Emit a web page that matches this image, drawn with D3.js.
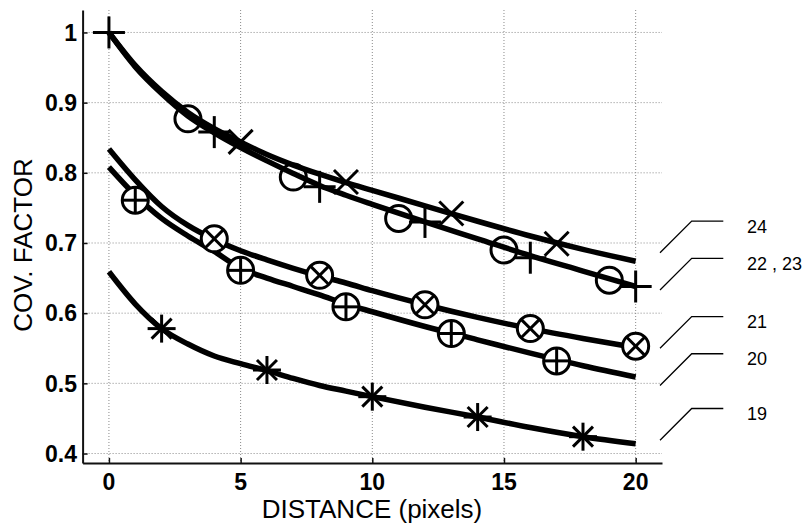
<!DOCTYPE html>
<html>
<head>
<meta charset="utf-8">
<script src="https://cdn.jsdelivr.net/npm/d3@7"></script>
<style>
  body { margin: 0; background: #fff; }
  svg { display: block; }
</style>
</head>
<body>
<svg id="chart" width="808" height="526"></svg>
<script>
// fitted curves, sampled along distance
const curveX = [0, 1, 2, 3, 4, 5, 6, 7, 8, 9, 10, 12, 14, 16, 18, 20];
const line24 = [1.000, 0.953, 0.916, 0.886, 0.863, 0.844, 0.826, 0.811, 0.798, 0.786, 0.775, 0.753, 0.731, 0.710, 0.691, 0.674];
const line2223 = [1.000, 0.951, 0.913, 0.881, 0.857, 0.836, 0.817, 0.799, 0.782, 0.768, 0.755, 0.730, 0.706, 0.682, 0.660, 0.638];
const line21 = [0.834, 0.790, 0.752, 0.725, 0.705, 0.689, 0.676, 0.664, 0.653, 0.643, 0.632, 0.612, 0.594, 0.578, 0.564, 0.551];
const line20 = [0.808, 0.768, 0.735, 0.710, 0.688, 0.664, 0.650, 0.638, 0.626, 0.613, 0.602, 0.581, 0.562, 0.543, 0.525, 0.509];
const line19 = [0.659, 0.613, 0.578, 0.556, 0.539, 0.528, 0.518, 0.507, 0.497, 0.489, 0.481, 0.466, 0.452, 0.437, 0.424, 0.414];

// measured points
const circleX = [3, 7, 11, 15, 19];
const circleY = [0.877, 0.794, 0.735, 0.690, 0.647];
const plusX = [0, 4, 8, 12, 16, 20];
const plusY = [1.000, 0.858, 0.780, 0.730, 0.679, 0.638];
const crossX = [5, 9, 13, 17];
const crossY = [0.844, 0.787, 0.742, 0.699];
const otimesX = [4, 8, 12, 16, 20];
const otimesY = [0.706, 0.654, 0.612, 0.578, 0.553];
const oplusX = [1, 5, 9, 13, 17];
const oplusY = [0.761, 0.661, 0.609, 0.571, 0.532];
const starX = [2, 6, 10, 14, 18];
const starY = [0.578, 0.519, 0.481, 0.452, 0.424];

// tick labels
const xTicks = [0, 5, 10, 15, 20];
const yTicks = [0.4, 0.5, 0.6, 0.7, 0.8, 0.9, 1];

// curve labels and where their leaders point (data units)
const curveLabels = ['24', '22 , 23', '21', '20', '19'];
const labelAnchorY = [0.686, 0.633, 0.550, 0.497, 0.419];

const svg = d3.select('#chart');
const x = d3.scaleLinear().domain([-1, 21]).range([82.6, 662]);
const y = d3.scaleLinear().domain([0.3865, 1.032]).range([463, 10]);

// grid
const grid = svg.append('g')
    .attr('stroke', '#8a8a8a')
    .attr('stroke-width', 1)
    .attr('stroke-dasharray', '1,2');
xTicks.forEach(t => {
    grid.append('line')
        .attr('x1', x(t)).attr('x2', x(t))
        .attr('y1', y.range()[1]).attr('y2', y.range()[0]);
});
yTicks.forEach(t => {
    grid.append('line')
        .attr('x1', x.range()[0]).attr('x2', x.range()[1])
        .attr('y1', y(t)).attr('y2', y(t));
});

// axes
const xAxis = svg.append('g')
    .attr('transform', `translate(0,${y.range()[0]})`)
    .call(d3.axisBottom(x).tickValues(xTicks).tickSizeInner(-5).tickSizeOuter(0).tickFormat(''));
const yAxis = svg.append('g')
    .attr('transform', `translate(${x.range()[0]},0)`)
    .call(d3.axisLeft(y).tickValues(yTicks).tickSizeInner(-5).tickSizeOuter(0).tickFormat(''));
[xAxis, yAxis].forEach(a => {
    a.select('.domain').attr('stroke', '#111').attr('stroke-width', 2);
    a.selectAll('.tick line').attr('stroke', '#111').attr('stroke-width', 1.5);
});

const tickFont = '"Liberation Sans", Arial, sans-serif';
svg.append('g').selectAll('text')
    .data(xTicks)
    .join('text')
    .attr('x', d => x(d))
    .attr('y', 490)
    .attr('text-anchor', 'middle')
    .attr('font-family', tickFont)
    .attr('font-weight', 'bold')
    .attr('font-size', 23)
    .text(d => d);
svg.append('g').selectAll('text')
    .data(yTicks)
    .join('text')
    .attr('x', 77)
    .attr('y', d => y(d))
    .attr('dy', '0.36em')
    .attr('text-anchor', 'end')
    .attr('font-family', tickFont)
    .attr('font-weight', 'bold')
    .attr('font-size', 23)
    .text(d => d3.format('.1~f')(d));

svg.append('text')
    .attr('x', 372)
    .attr('y', 518)
    .attr('text-anchor', 'middle')
    .attr('font-family', tickFont)
    .attr('font-size', 26)
    .text('DISTANCE (pixels)');
svg.append('text')
    .attr('transform', 'translate(32,245) rotate(-90)')
    .attr('text-anchor', 'middle')
    .attr('font-family', tickFont)
    .attr('font-size', 26)
    .text('COV. FACTOR');

// curves
const lineGen = d3.line()
    .x(d => x(d[0]))
    .y(d => y(d[1]))
    .curve(d3.curveMonotoneX);
[line24, line2223, line21, line20, line19].forEach(vals => {
    svg.append('path')
        .datum(curveX.map((cx, i) => [cx, vals[i]]))
        .attr('d', lineGen)
        .attr('fill', 'none')
        .attr('stroke', '#000')
        .attr('stroke-width', 5.5)
        .attr('stroke-linecap', 'butt');
});

// markers
const markers = svg.append('g')
    .attr('fill', 'none')
    .attr('stroke', '#000')
    .attr('stroke-width', 3);

function drawMarkers(xs, ys, shape) {
    xs.forEach((mx, i) => {
        const g = markers.append('g').attr('transform', `translate(${x(mx)},${y(ys[i])})`);
        const r = 13;
        if (shape === 'circle' || shape === 'otimes' || shape === 'oplus') {
            g.append('circle').attr('r', r).attr('fill', shape === 'circle' ? 'none' : '#fff');
        }
        if (shape === 'plus' || shape === 'oplus' || shape === 'star') {
            const a = shape === 'plus' ? 16 : (shape === 'star' ? 14 : r);
            g.append('line').attr('x1', -a).attr('x2', a);
            g.append('line').attr('y1', -a).attr('y2', a);
        }
        if (shape === 'cross' || shape === 'otimes' || shape === 'star') {
            const a = shape === 'cross' ? 12 : (shape === 'star' ? 10 : r * 0.707);
            g.append('line').attr('x1', -a).attr('y1', -a).attr('x2', a).attr('y2', a);
            g.append('line').attr('x1', -a).attr('y1', a).attr('x2', a).attr('y2', -a);
        }
    });
}
drawMarkers(circleX, circleY, 'circle');
drawMarkers(plusX, plusY, 'plus');
drawMarkers(crossX, crossY, 'cross');
drawMarkers(otimesX, otimesY, 'otimes');
drawMarkers(oplusX, oplusY, 'oplus');
drawMarkers(starX, starY, 'star');

// curve labels with leaders
const leaders = svg.append('g');
curveLabels.forEach((lab, i) => {
    const by = y(labelAnchorY[i]);
    leaders.append('path')
        .attr('d', `M660,${by} L691.7,${by - 31.7} L723.3,${by - 31.7}`)
        .attr('fill', 'none')
        .attr('stroke', '#000')
        .attr('stroke-width', 1.3);
    leaders.append('text')
        .attr('x', 747)
        .attr('y', by - 31.7 + 5)
        .attr('dy', '0.36em')
        .attr('font-family', tickFont)
        .attr('font-size', 18)
        .text(lab);
});
</script>
</body>
</html>
